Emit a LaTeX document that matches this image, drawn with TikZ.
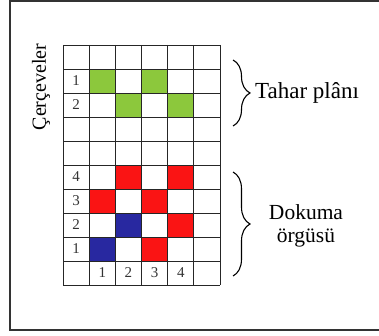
\documentclass[tikz,border=0pt]{standalone}
\usepackage{fontspec}
\setmainfont{Liberation Serif}
\usetikzlibrary{decorations.pathreplacing, positioning}
\definecolor{cellgreen}{RGB}{140,200,60}
\definecolor{cellred}{RGB}{250,20,20}
\definecolor{cellblue}{RGB}{40,40,160}
\tikzset{
	every node/.style={
		font=\fontsize{21.5}{24}\selectfont
	},
	frame/.style={
		draw=black!80,
		line width=1.8pt
	},
	gridline/.style={
		draw=black!85,
		line width=0.9pt
	},
	num/.style={
		font=\fontsize{15}{16}\selectfont,
		text=black!80,
		inner sep=0pt
	},
	bigbrace/.style={
		decorate,
		decoration={brace, amplitude=17pt},
		line width=1.1pt
	},
	green cell/.style={fill=cellgreen},
	red cell/.style={fill=cellred},
	blue cell/.style={fill=cellblue}
}

\begin{document}
\begin{tikzpicture}[x=1pt, y=-1pt]
		\useasboundingbox (0,0) rectangle (379,336);
		
		% frame, open on the right
		\draw[frame] (390,1) -- (10,1) -- (10,330) -- (390,330);
		
		\node[rotate=90, font=\fontsize{20}{24}\selectfont] (cerceveler) at (41,87) {Çerçeveler};
		
		\begin{scope}[shift={(63,45)}, x=26.17pt, y=-24pt]
			% tahar plani
			\foreach \c/\r in {1/1, 3/1, 2/2, 4/2}
				\fill[green cell] (\c,\r) rectangle ++(1,1);
			% dokuma orgusu
			\foreach \c/\r in {2/5, 4/5, 1/6, 3/6, 4/7, 3/8}
				\fill[red cell] (\c,\r) rectangle ++(1,1);
			\foreach \c/\r in {2/7, 1/8}
				\fill[blue cell] (\c,\r) rectangle ++(1,1);
			
			\foreach \i in {0,...,6}
				\draw[gridline] (\i,0) -- (\i,10);
			\foreach \j in {0,...,10}
				\draw[gridline] (0,\j) -- (6,\j);
			
			\foreach \r/\t in {1/1, 2/2, 5/4, 6/3, 7/2, 8/1}
				\node[num] (row\r) at (0.5,\r+0.5) {\t};
			\foreach \c in {1,...,4}
				\node[num] (col\c) at (\c+0.5,9.5) {\c};
		\end{scope}
		
		\coordinate (tahar top) at (233,60);
		\coordinate (tahar bottom) at (233,126);
		\coordinate (dokuma top) at (233,172);
		\coordinate (dokuma bottom) at (233,276);
		
		\draw[bigbrace] (tahar top) -- (tahar bottom);
		\draw[bigbrace] (dokuma top) -- (dokuma bottom);
		
		\node[anchor=west, inner sep=0pt, font=\fontsize{23}{26}\selectfont] (tahar) at (255,93) {Tahar plânı};
		\node[align=center, inner sep=0pt] (dokuma) at (306,226) {Dokuma\\[-1pt]örgüsü};
		
\end{tikzpicture}
\end{document}
